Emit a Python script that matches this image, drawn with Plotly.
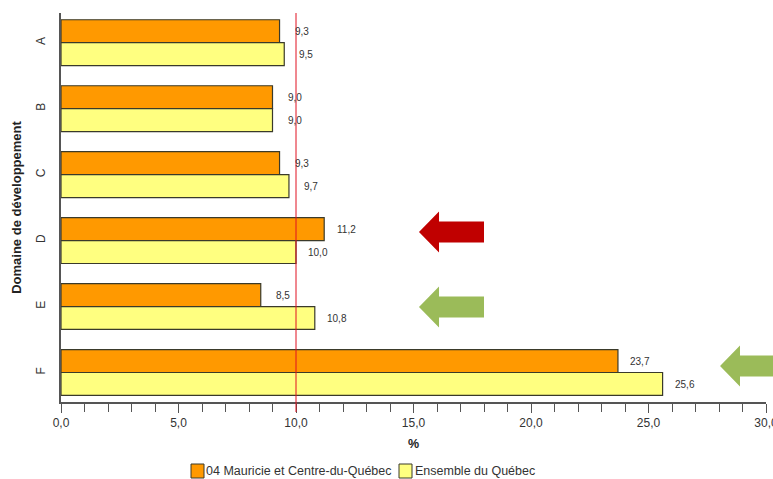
import plotly.graph_objects as go

categories = ["A", "B", "C", "D", "E", "F"]
mauricie = [9.3, 9.0, 9.3, 11.2, 8.5, 23.7]
quebec = [9.5, 9.0, 9.7, 10.0, 10.8, 25.6]
series_names = ["04 Mauricie et Centre-du-Québec", "Ensemble du Québec"]
x_ticks = [0, 5, 10, 15, 20, 25, 30]
x_title = "%"
y_title = "Domaine de développement"

W, H = 773, 479
L, R, T, B = 61, 7, 13, 77
FONT = "Liberation Sans, Arial, sans-serif"
ORANGE, YELLOW = "#FF9900", "#FFFF80"
OUTLINE, AXIS = "#3a3a2a", "#555555"
RED, GREEN = "#C00000", "#9BBB59"


def fr(v):
    return f"{v:.1f}".replace(".", ",")


def px(x):
    return (x - L) / (W - L - R)


def py(y):
    return (H - B - y) / (H - T - B)


def arrow(tip_x, tip_y, end_x, color):
    pts = [(tip_x, tip_y), (tip_x + 20, tip_y - 20.5), (tip_x + 20, tip_y - 10.5),
           (end_x, tip_y - 10.5), (end_x, tip_y + 10.5), (tip_x + 20, tip_y + 10.5),
           (tip_x + 20, tip_y + 20.5)]
    path = "M" + " L".join(f"{px(a):.4f},{py(b):.4f}" for a, b in pts) + " Z"
    return dict(type="path", xref="paper", yref="paper", path=path,
                fillcolor=color, line=dict(width=0), layer="above")


def swatch(x0, color):
    return dict(type="rect", xref="paper", yref="paper", x0=px(x0), x1=px(x0 + 13),
                y0=py(478), y1=py(464), fillcolor=color,
                line=dict(color=OUTLINE, width=1), layer="above")


fig = go.Figure()
for name, vals, col in [(series_names[0], mauricie, ORANGE), (series_names[1], quebec, YELLOW)]:
    fig.add_trace(go.Bar(y=categories, x=vals, name=name, orientation="h",
                         marker=dict(color=col, line=dict(color=OUTLINE, width=1.2)),
                         showlegend=False))

annotations = []
for i, cat in enumerate(categories):
    for vals, yshift in ((mauricie, 11.5), (quebec, -11.5)):
        annotations.append(dict(x=vals[i], y=cat, xref="x", yref="y", text=fr(vals[i]),
                                showarrow=False, xanchor="center", xshift=22, yshift=yshift,
                                font=dict(family=FONT, size=10, color="#333333")))
annotations.append(dict(xref="paper", yref="paper", x=px(206), y=py(471), text=series_names[0],
                        showarrow=False, xanchor="left", yanchor="middle", xshift=-2,
                        font=dict(family=FONT, size=12.5, color="#333333")))
annotations.append(dict(xref="paper", yref="paper", x=px(415), y=py(471), text=series_names[1],
                        showarrow=False, xanchor="left", yanchor="middle", xshift=-2,
                        font=dict(family=FONT, size=12.5, color="#333333")))

shapes = [
    dict(type="line", xref="x", yref="paper", x0=10, x1=10, y0=py(412), y1=1,
         line=dict(color="#E01020", width=1), layer="above"),
    arrow(419, 232, 484, RED),
    arrow(419, 307, 484, GREEN),
    arrow(720, 366, 790, GREEN),
    swatch(191, ORANGE),
    swatch(399, YELLOW),
]

fig.update_layout(
    width=W, height=H, margin=dict(l=L, r=R, t=T, b=B, autoexpand=False),
    paper_bgcolor="white", plot_bgcolor="white",
    barmode="group", bargap=0.305, bargroupgap=0,
    font=dict(family=FONT, size=10, color="#333333"),
    showlegend=False, shapes=shapes, annotations=annotations,
    xaxis=dict(range=[0, 30], tickvals=x_ticks, ticktext=[fr(v) for v in x_ticks],
               ticks="outside", ticklen=9, tickwidth=1, tickcolor=AXIS,
               minor=dict(dtick=1, ticks="outside", ticklen=8, tickwidth=1, tickcolor=AXIS, showgrid=False),
               showline=True, linecolor=AXIS, linewidth=2, showgrid=False, zeroline=False,
               ticklabeloverflow="allow",
               tickfont=dict(family=FONT, size=12, color="#333333"),
               title=dict(text=f"<b>{x_title}</b>", standoff=10,
                          font=dict(family=FONT, size=12.5, color="#222222"))),
    yaxis=dict(range=[5.447, -0.45], type="category", categoryorder="array", categoryarray=categories,
               ticks="", showline=True, linecolor=AXIS, linewidth=2, showgrid=False, zeroline=False,
               tickangle=-90, ticklabelstandoff=9,
               tickfont=dict(family=FONT, size=12, color="#333333"),
               title=dict(text=f"<b>{y_title}</b>", standoff=10,
                          font=dict(family=FONT, size=13, color="#222222"))),
)

fig.write_html("out.html", config={"displayModeBar": False},
               post_script="document.body.style.margin='0';document.body.style.overflow='hidden';")
